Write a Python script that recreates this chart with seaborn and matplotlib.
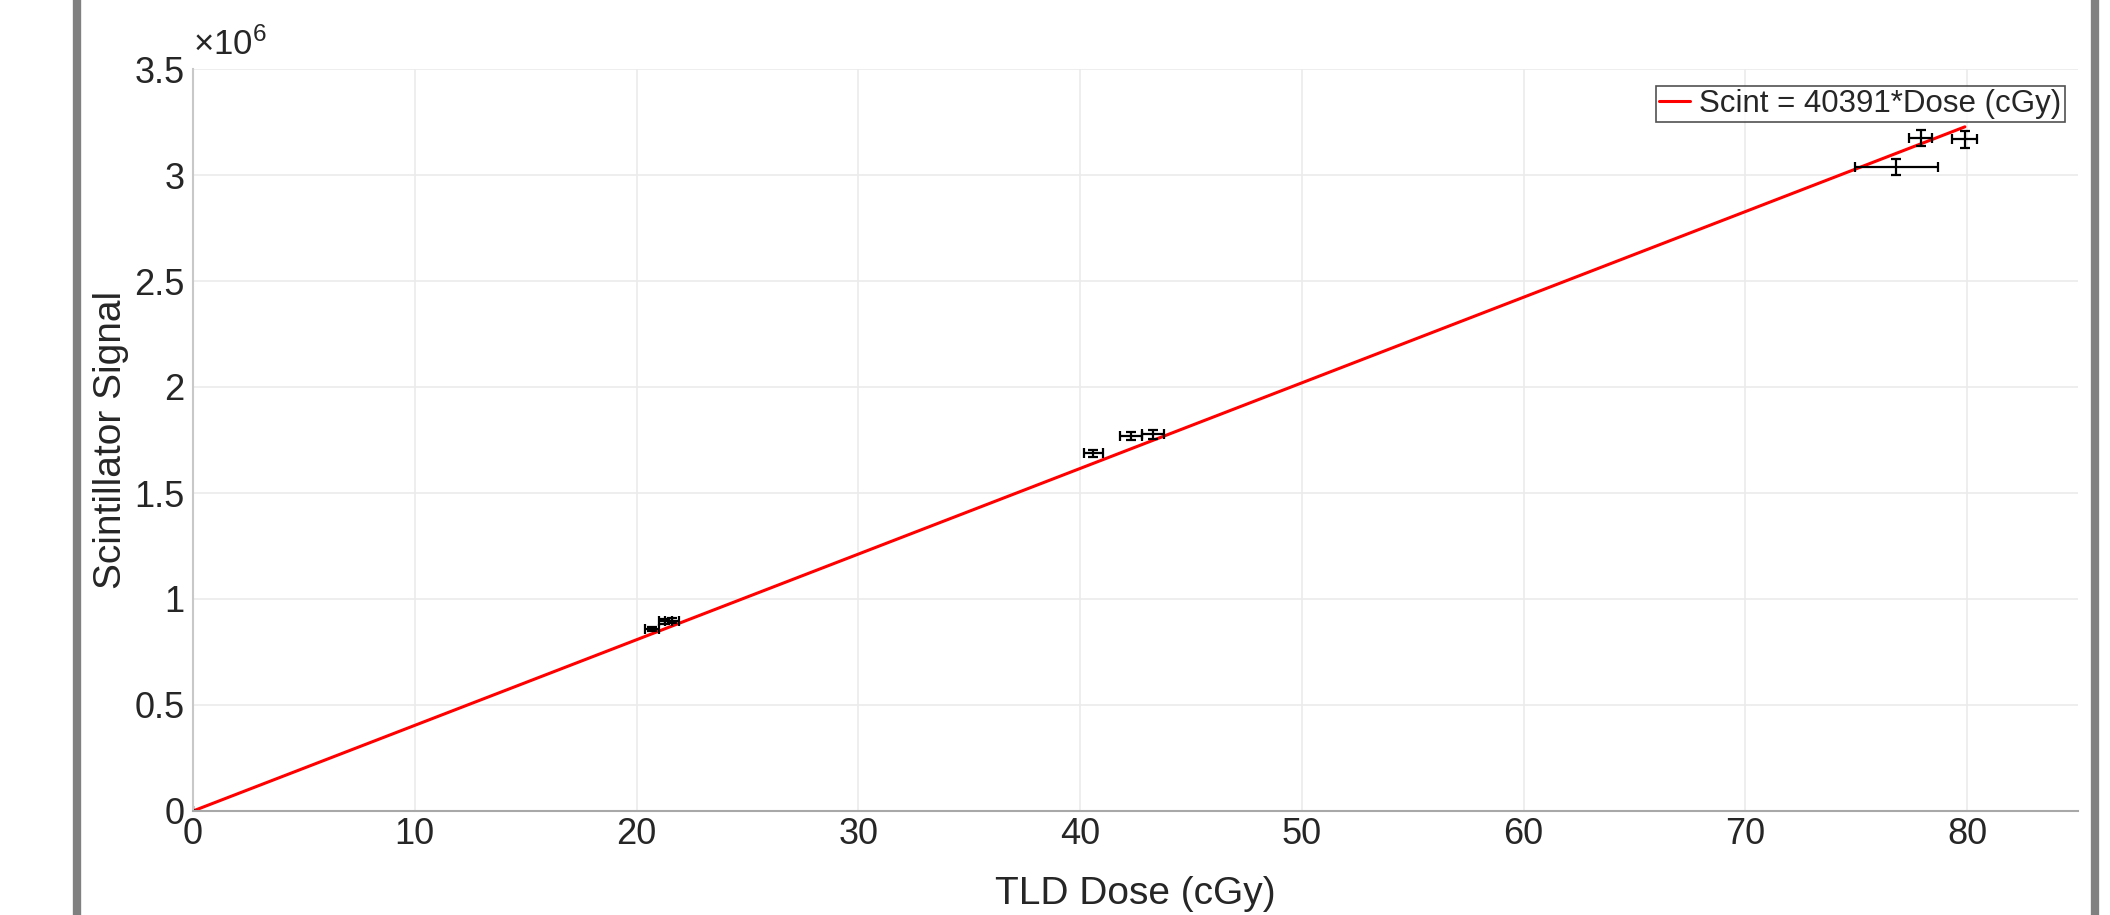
"""
Scintillator signal vs TLD dose calibration plot.
"""

import matplotlib.pyplot as plt
import matplotlib.ticker as mticker
import seaborn as sns
import pandas as pd

# measured points (dose in cGy, signal in counts)
tld_dose = [0.0, 20.7, 21.3, 21.6, 40.6, 42.3, 43.3, 76.8, 77.9, 79.9]
scint_signal = [0.0, 0.857e6, 0.895e6, 0.897e6, 1.687e6, 1.770e6, 1.777e6, 3.039e6, 3.173e6, 3.168e6]
dose_err = [0.0, 0.30, 0.30, 0.30, 0.43, 0.51, 0.49, 1.87, 0.53, 0.56]
signal_err = [0.0, 0.010e6, 0.012e6, 0.012e6, 0.017e6, 0.020e6, 0.020e6, 0.037e6, 0.038e6, 0.040e6]

# linear fit through origin
fit_slope = 40391
fit_dose = [0.0, 79.9]
fit_label = "Scint = 40391*Dose (cGy)"

x_ticks = [0, 10, 20, 30, 40, 50, 60, 70, 80]
y_ticks = [0, 0.5e6, 1e6, 1.5e6, 2e6, 2.5e6, 3e6, 3.5e6]

sns.set_theme(style="whitegrid")
plt.rcParams["font.family"] = ["Liberation Sans", "DejaVu Sans"]
plt.rcParams["mathtext.fontset"] = "custom"
plt.rcParams["mathtext.rm"] = "Liberation Sans"

fig = plt.figure(figsize=(21.1, 9.15), dpi=100)
ax = fig.add_axes([193 / 2110, 1 - 811 / 915, (2078 - 193) / 2110, (811 - 69) / 915])

fit = pd.DataFrame({"dose": fit_dose})
fit["signal"] = fit["dose"] * fit_slope
sns.lineplot(data=fit, x="dose", y="signal", color="#ff0000", linewidth=2.2, label=fit_label, ax=ax)

ax.errorbar(tld_dose, scint_signal, xerr=dose_err, yerr=signal_err, fmt="none",
            ecolor="black", elinewidth=1.6, capsize=3.5, capthick=1.6)
ax.plot(tld_dose[:1], scint_signal[:1], "k.", markersize=5)

ax.set_xlim(0, 85)
ax.set_ylim(0, 3.5e6)
ax.set_xticks(x_ticks)
ax.set_yticks(y_ticks)
ax.yaxis.set_major_formatter(mticker.FuncFormatter(lambda v, p: f"{v / 1e6:g}"))
ax.tick_params(labelsize=26, colors="#262626", direction="in", length=6, width=1)
ax.tick_params(axis="y", pad=6)
ax.tick_params(axis="x", pad=4)
ax.grid(True, color="#ebebeb", linewidth=1.2)
ax.set_facecolor("white")
for side in ["top", "right"]:
    ax.spines[side].set_visible(False)
ax.spines["left"].set_color("#c8c8c8")
ax.spines["bottom"].set_color("#a8a8a8")
for side in ["left", "bottom"]:
    ax.spines[side].set_linewidth(1.5)

ax.set_xlabel("TLD Dose (cGy)", fontsize=28, color="#262626")
ax.xaxis.set_label_coords(0.5, -0.088)
ax.set_ylabel("Scintillator Signal", fontsize=28, color="#262626")
ax.yaxis.set_label_coords(-0.034, 0.5)
ax.text(0.0, 1.01, r"$\mathregular{\times10^{6}}$", transform=ax.transAxes, fontsize=25,
        color="#262626", ha="left", va="bottom")

leg = ax.legend(loc="upper right", fontsize=22.5, frameon=True, fancybox=False,
                handlelength=1.0, handletextpad=0.3, borderpad=0.1,
                borderaxespad=0.3, bbox_to_anchor=(0.998, 0.99))
leg.get_frame().set_edgecolor("#262626")
leg.get_frame().set_linewidth(1.2)

# slide frame on both sides
for xpos in [77 / 2110, 2095 / 2110]:
    fig.add_artist(plt.Line2D([xpos, xpos], [0, 1], transform=fig.transFigure,
                              color="#808080", linewidth=6))

fig.savefig("out.png", dpi=100)
